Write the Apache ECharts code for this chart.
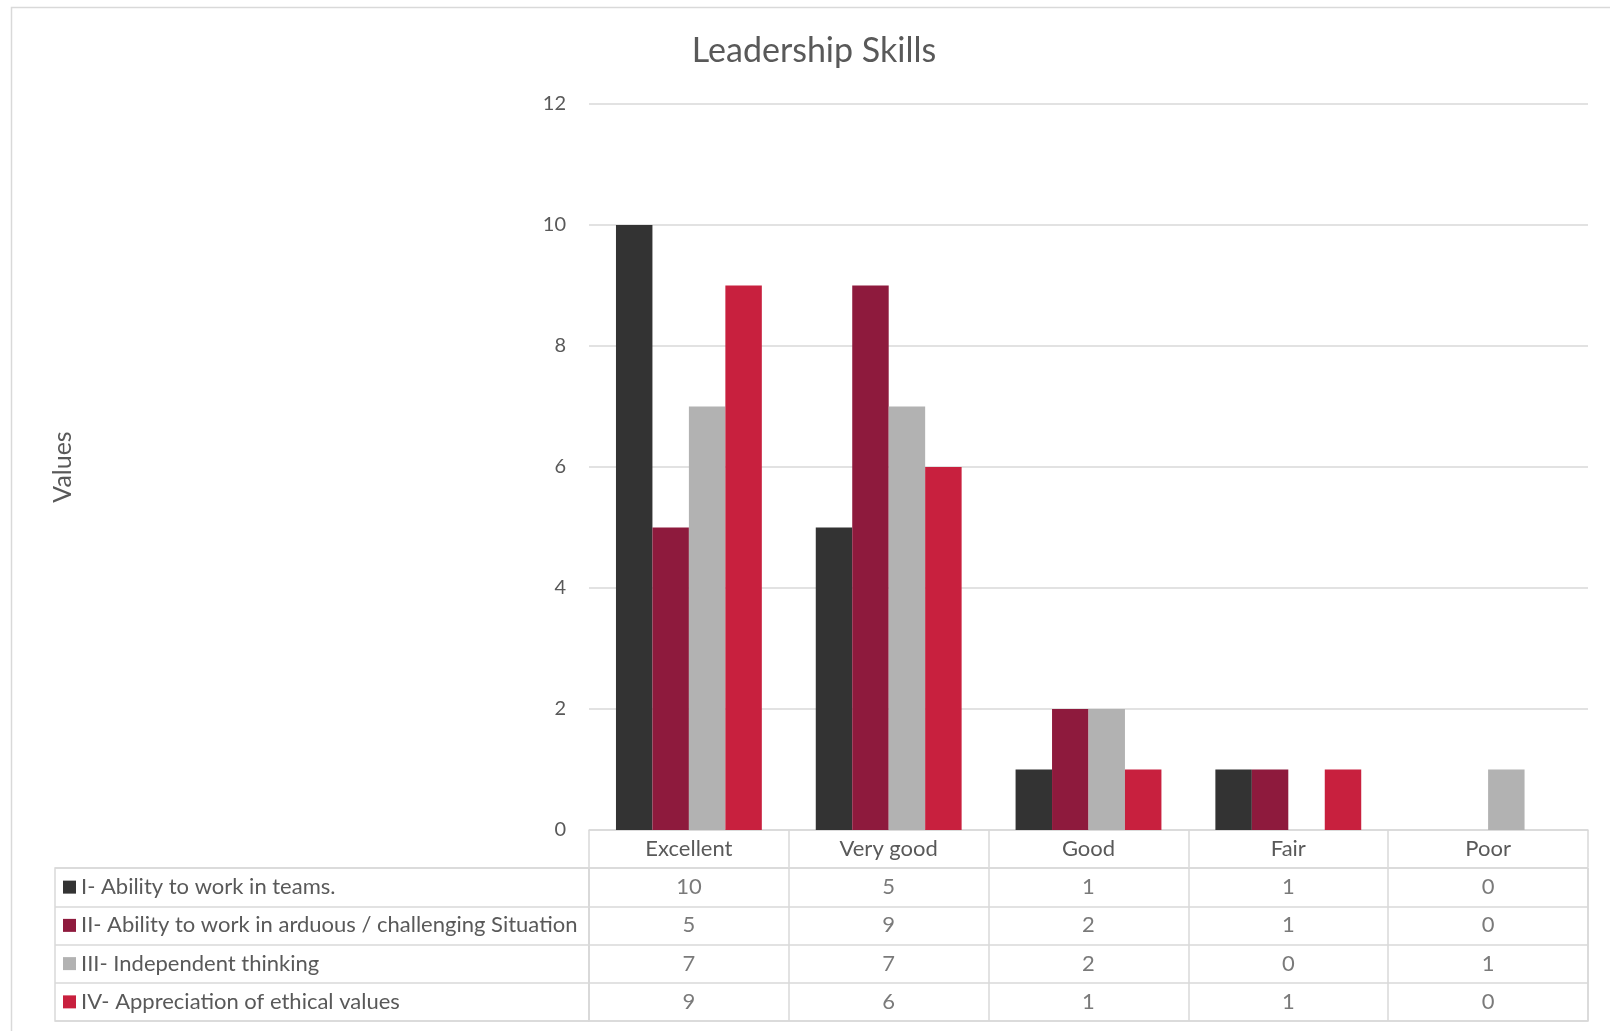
<!DOCTYPE html>
<html><head><meta charset="utf-8">
<script src="https://cdn.jsdelivr.net/npm/echarts@6/dist/echarts.min.js"></script>
<style>html,body{margin:0;padding:0;background:#fff}#c{width:1610px;height:1031px}</style>
</head><body><div id="c"></div>
<script>
const categories = ['Excellent', 'Very good', 'Good', 'Fair', 'Poor'];
const seriesNames = [
  'I- Ability to work in teams.',
  'II- Ability to work in arduous / challenging Situation',
  'III- Independent thinking',
  'IV- Appreciation of ethical values'
];
const teams = [10, 5, 1, 1, 0];
const arduous = [5, 9, 2, 1, 0];
const independent = [7, 7, 2, 0, 1];
const ethical = [9, 6, 1, 1, 0];
const yTicks = { min: 0, max: 12, interval: 2 };
const colors = ['#333333', '#8e1a3d', '#b2b2b2', '#c8203e'];

const allValues = [teams, arduous, independent, ethical];
const FONT = 'Lato, "Noto Sans", sans-serif';
const TXT = '#595959';
const LINE = '#d9d9d9';

const chart = echarts.init(document.getElementById('c'), null, { renderer: 'canvas' });

const rich = {};
colors.forEach((c, i) => {
  rich['sq' + i] = { width: 13, height: 13, backgroundColor: c };
  rich['t' + i] = { fontSize: 22, color: TXT, fontFamily: FONT, padding: [0, 0, 0, 5] };
});

const cellData = [];
allValues.forEach((arr, r) => arr.forEach((v, c) => cellData.push([c, r, v])));

const option = {
  backgroundColor: '#ffffff',
  animation: false,
  textStyle: { fontFamily: FONT },
  title: {
    text: 'Leadership Skills',
    left: 809,
    textAlign: 'center',
    top: 29,
    textStyle: { fontSize: 34, fontWeight: 'normal', color: TXT, fontFamily: FONT }
  },
  graphic: [{
    type: 'rect', left: 9, top: 5,
    shape: { width: 1640, height: 1060 },
    style: { fill: 'none', stroke: LINE, lineWidth: 1.5 }, silent: true, z: -1
  }],
  grid: [
    { left: 589, right: 22, top: 104, bottom: 201 },
    { left: 55, width: 534, top: 868, height: 153, show: true, borderColor: LINE, borderWidth: 1.5 },
    { left: 589, right: 22, top: 868, height: 153, show: true, borderColor: LINE, borderWidth: 1.5 }
  ],
  xAxis: [
    {
      type: 'category', gridIndex: 0, data: categories,
      axisLine: { lineStyle: { color: LINE, width: 1.5 } },
      axisTick: { show: true, length: 37, lineStyle: { color: LINE, width: 1.5 } },
      axisLabel: { color: TXT, fontSize: 22, margin: 8, fontFamily: FONT }
    },
    {
      type: 'category', gridIndex: 1, data: [''],
      axisLine: { show: false }, axisTick: { show: false }, axisLabel: { show: false }
    },
    {
      type: 'category', gridIndex: 2, data: categories,
      axisLine: { show: false }, axisTick: { show: false }, axisLabel: { show: false },
      splitLine: { show: true, lineStyle: { color: LINE, width: 1.5 } }
    }
  ],
  yAxis: [
    {
      type: 'value', gridIndex: 0, min: yTicks.min, max: yTicks.max, interval: yTicks.interval,
      name: 'Values', nameLocation: 'middle', nameGap: 514, nameRotate: 90,
      nameTextStyle: { color: TXT, fontSize: 25, fontFamily: FONT },
      axisLine: { show: false }, axisTick: { show: false },
      axisLabel: { color: TXT, fontSize: 20, margin: 23, fontFamily: FONT },
      splitLine: { lineStyle: { color: LINE, width: 1.5 } }
    },
    {
      type: 'category', gridIndex: 1, data: seriesNames, inverse: true,
      axisLine: { show: false }, axisTick: { show: false },
      splitLine: { show: true, lineStyle: { color: LINE, width: 1.5 } },
      axisLabel: {
        inside: true, margin: 8, align: 'left',
        formatter: (v, i) => '{sq' + i + '|}{t' + i + '|' + v + '}',
        rich: rich
      }
    },
    {
      type: 'category', gridIndex: 2, data: seriesNames, inverse: true,
      axisLine: { show: false }, axisTick: { show: false }, axisLabel: { show: false },
      splitLine: { show: true, lineStyle: { color: LINE, width: 1.5 } }
    }
  ],
  series: seriesNames.map((n, i) => ({
    name: n, type: 'bar', xAxisIndex: 0, yAxisIndex: 0,
    data: allValues[i], barGap: 0, barCategoryGap: '27%',
    itemStyle: { color: colors[i] }
  })).concat([{
    type: 'scatter', xAxisIndex: 2, yAxisIndex: 2, symbolSize: 0,
    data: cellData,
    label: {
      show: true, position: 'inside', formatter: p => String(p.value[2]),
      color: TXT, fontSize: 22, fontFamily: FONT
    }
  }])
};
chart.setOption(option);
</script>
</body></html>
